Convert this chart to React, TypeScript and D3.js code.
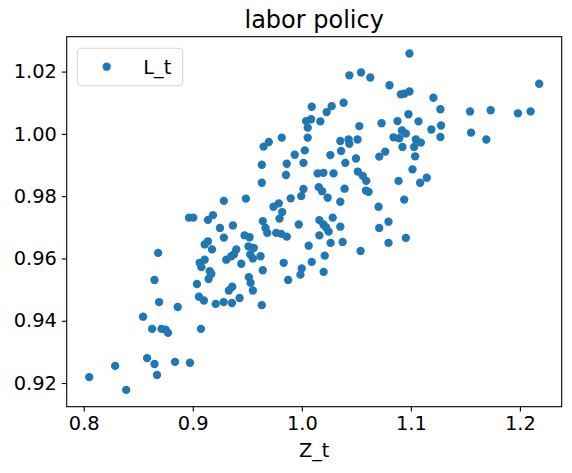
import { useEffect, useRef } from 'react';
import * as d3 from 'd3';

// Z_t (x) and L_t (y)
const zValues = [
  0.8050, 0.8288, 0.8389, 0.8581, 0.8649, 0.8672, 0.8837, 0.8974, 0.8544, 0.8627,
  0.8713, 0.8752, 0.8773, 0.9075, 0.8691, 0.8862, 0.9038, 0.9057, 0.9102, 0.9210,
  0.9283, 0.9359, 0.9429, 0.8649, 0.9331, 0.9362, 0.9145,
  0.9633, 0.9285, 0.9487, 0.8965, 0.9005, 0.9139, 0.9185, 0.9249, 0.9368, 0.9285,
  0.9642, 0.9667, 0.9683, 0.9475, 0.9521, 0.9139, 0.9109, 0.9176, 0.9511, 0.9560,
  0.9527, 0.9621, 0.9551, 0.9399, 0.9377, 0.9353, 0.9307, 0.9445, 0.9109, 0.9063,
  0.9079, 0.9155, 0.9170, 0.9642, 0.8682, 0.9514, 0.9530, 0.9551, 0.9633,
  0.9855, 1.0145, 1.0198, 1.0291, 1.0513, 1.0559, 1.0591, 1.0887, 1.0155, 1.0186,
  1.0015, 0.9994, 1.0237, 1.0392, 1.0353, 1.0588, 1.0612, 1.0939, 1.0704, 0.9898,
  0.9789, 0.9740, 0.9820, 0.9795, 0.9972, 1.0161, 1.0198, 1.0222, 1.0283, 1.0353,
  0.9765, 0.9811, 0.9862, 1.0246, 1.0161, 1.0264, 1.0374, 1.0063, 1.0710, 1.0795,
  1.0795, 1.0954, 1.0539, 1.0210, 1.0091, 0.9834, 0.9999, 0.9987, 1.0200, 0.9875,
  1.1146, 1.1085,
  1.0436, 1.0543, 1.0628, 1.0383, 1.0091, 1.0274, 1.0228, 1.0039, 1.0085, 1.0054,
  1.0170, 1.0527, 0.9816, 1.0054, 0.9697, 0.9649, 1.0353, 1.0429, 1.0511, 1.0436,
  1.0360, 1.0027, 0.9935, 1.0015, 1.0262, 1.0497, 1.0399, 0.9633, 0.9862,
  1.0987, 1.2177, 1.0804, 1.0909, 1.0939, 1.0987, 1.1207, 1.1271, 1.1543, 1.1732,
  1.1982, 1.2098, 1.0978, 1.0877, 1.1070, 1.0731, 1.1277, 1.1188, 1.0918, 1.0954,
  1.0841, 1.0893, 1.1046, 1.1092, 1.1030, 1.1271, 1.1552, 1.1692, 1.0923, 1.0765,
  1.0710, 1.1039, 1.1015,
];

const lValues = [
  0.9219, 0.9255, 0.9178, 0.9280, 0.9261, 0.9226, 0.9268, 0.9265, 0.9413, 0.9374,
  0.9374, 0.9371, 0.9361, 0.9374, 0.9460, 0.9444, 0.9518, 0.9477, 0.9465, 0.9454,
  0.9460, 0.9457, 0.9473, 0.9531, 0.9497, 0.9509, 0.9534,
  0.9843, 0.9785, 0.9792, 0.9731, 0.9731, 0.9724, 0.9739, 0.9698, 0.9706, 0.9667,
  0.9720, 0.9698, 0.9682, 0.9674, 0.9668, 0.9655, 0.9645, 0.9629, 0.9639, 0.9634,
  0.9613, 0.9607, 0.9600, 0.9629, 0.9613, 0.9607, 0.9596, 0.9583, 0.9596, 0.9586,
  0.9572, 0.9559, 0.9551, 0.9562, 0.9618, 0.9540, 0.9522, 0.9497, 0.9450,
  0.9868, 0.9873, 0.9875, 0.9873, 0.9879, 0.9865, 0.9849, 0.9849, 0.9829, 0.9816,
  0.9823, 0.9800, 0.9795, 0.9824, 0.9782, 0.9818, 0.9814, 0.9789, 0.9766, 0.9793,
  0.9777, 0.9766, 0.9749, 0.9728, 0.9709, 0.9723, 0.9709, 0.9700, 0.9731, 0.9702,
  0.9682, 0.9679, 0.9670, 0.9686, 0.9674, 0.9650, 0.9653, 0.9641, 0.9698, 0.9718,
  0.9650, 0.9666, 0.9624, 0.9609, 0.9589, 0.9586, 0.9568, 0.9548, 0.9557, 0.9531,
  0.9859, 0.9843,
  1.0188, 1.0197, 1.0181, 1.0100, 1.0087, 1.0089, 1.0070, 1.0041, 1.0047, 1.0020,
  1.0040, 1.0025, 0.9988, 0.9988, 0.9974, 0.9959, 0.9977, 0.9982, 0.9982, 0.9968,
  0.9945, 0.9947, 0.9933, 0.9907, 0.9932, 0.9921, 0.9907, 0.9901, 0.9904,
  1.0258, 1.0161, 1.0156, 1.0127, 1.0129, 1.0136, 1.0116, 1.0079, 1.0072, 1.0076,
  1.0066, 1.0072, 1.0063, 1.0041, 1.0040, 1.0034, 1.0027, 1.0014, 1.0011, 1.0001,
  0.9989, 0.9986, 0.9982, 0.9972, 0.9958, 0.9990, 1.0004, 0.9982, 0.9958, 0.9943,
  0.9927, 0.9928, 0.9886,
];

const xTicks = [0.8, 0.9, 1.0, 1.1, 1.2];
const yTicks = [0.92, 0.94, 0.96, 0.98, 1.0, 1.02];

const title = 'labor policy';
const xLabel = 'Z_t';
const seriesName = 'L_t';

export default function App() {
  const svgRef = useRef<SVGSVGElement>(null);

  useEffect(() => {
    if (!svgRef.current) return;

    const W = 572;
    const H = 473;
    const plot = { left: 66.7, right: 561.7, top: 36.7, bottom: 406.7 };
    const font = '"DejaVu Sans", sans-serif';
    const color = '#1f77b4';
    const tickLen = 4.9;

    d3.select(svgRef.current).selectAll('*').remove();
    const svg = d3.select(svgRef.current).attr('width', W).attr('height', H);

    const points = zValues.map((z, i) => ({ z, l: lValues[i] }));

    // matplotlib-style 5% margins around the data
    const pad = (ext: [number, number]) => {
      const m = (ext[1] - ext[0]) * 0.05;
      return [ext[0] - m, ext[1] + m];
    };
    const x = d3.scaleLinear()
      .domain(pad(d3.extent(zValues) as [number, number]))
      .range([plot.left, plot.right]);
    const y = d3.scaleLinear()
      .domain(pad(d3.extent(lValues) as [number, number]))
      .range([plot.bottom, plot.top]);

    svg.append('rect')
      .attr('width', W).attr('height', H).attr('fill', '#fff');

    svg.append('g')
      .selectAll('circle')
      .data(points)
      .enter()
      .append('circle')
      .attr('cx', d => x(d.z))
      .attr('cy', d => y(d.l))
      .attr('r', 4.17)
      .attr('fill', color);

    const xAxis = svg.append('g')
      .attr('transform', `translate(0,${plot.bottom})`)
      .call(d3.axisBottom(x).tickValues(xTicks).tickFormat(d3.format('.1f')).tickSize(tickLen).tickPadding(4.9));
    const yAxis = svg.append('g')
      .attr('transform', `translate(${plot.left},0)`)
      .call(d3.axisLeft(y).tickValues(yTicks).tickFormat(d3.format('.2f')).tickSize(tickLen).tickPadding(4.9));

    [xAxis, yAxis].forEach(g => {
      g.select('.domain').remove();
      g.selectAll('line').attr('stroke', '#000').attr('stroke-width', 1.1);
      g.selectAll('text')
        .attr('fill', '#000')
        .style('font-family', font)
        .style('font-size', '19.4px');
    });
    xAxis.selectAll('text').attr('dy', '0.72em');

    // spines
    svg.append('rect')
      .attr('x', plot.left)
      .attr('y', plot.top)
      .attr('width', plot.right - plot.left)
      .attr('height', plot.bottom - plot.top)
      .attr('fill', 'none')
      .attr('stroke', '#000')
      .attr('stroke-width', 1.1);

    svg.append('text')
      .attr('x', (plot.left + plot.right) / 2)
      .attr('y', 28)
      .attr('text-anchor', 'middle')
      .style('font-family', font)
      .style('font-size', '24px')
      .text(title);

    svg.append('text')
      .attr('x', (plot.left + plot.right) / 2)
      .attr('y', 457)
      .attr('text-anchor', 'middle')
      .style('font-family', font)
      .style('font-size', '19.4px')
      .text(xLabel);

    // legend
    const legend = svg.append('g');
    legend.append('rect')
      .attr('x', 77.3)
      .attr('y', 48.3)
      .attr('width', 105.4)
      .attr('height', 37.4)
      .attr('rx', 4)
      .attr('fill', '#fff')
      .attr('fill-opacity', 0.8)
      .attr('stroke', '#ccc')
      .attr('stroke-opacity', 0.8)
      .attr('stroke-width', 1.1);
    legend.append('circle')
      .attr('cx', 106.7)
      .attr('cy', 66.7)
      .attr('r', 4.17)
      .attr('fill', color);
    legend.append('text')
      .attr('x', 143.3)
      .attr('y', 73.5)
      .style('font-family', font)
      .style('font-size', '19.4px')
      .text(seriesName);
  }, []);

  return (
    <div style={{ position: 'absolute', left: 0, top: 0 }}>
      <svg ref={svgRef}></svg>
    </div>
  );
}
